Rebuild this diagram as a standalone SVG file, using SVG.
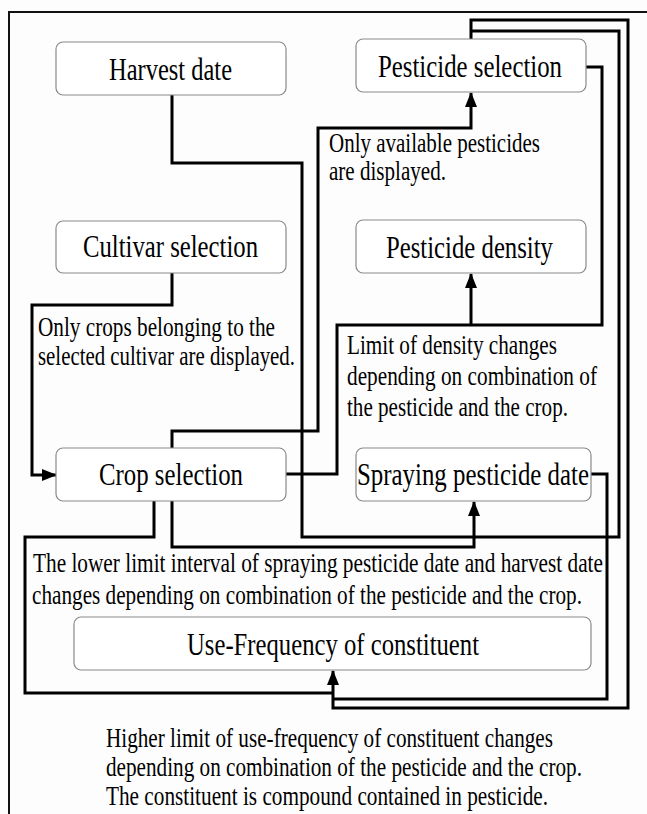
<svg xmlns="http://www.w3.org/2000/svg" width="647" height="814" viewBox="0 0 647 814">
<style>
.bg{fill:#fdfdfd}
.frame{fill:none;stroke:#111;stroke-width:2}
.box{fill:#fff;stroke:#8a8a8a;stroke-width:1.2}
.nt{font-family:"Liberation Serif","Times New Roman",serif;font-size:31px;fill:#000}
.at{font-family:"Liberation Serif","Times New Roman",serif;font-size:27px;fill:#000}
.c{fill:none;stroke:#000;stroke-width:3;stroke-linejoin:miter}
</style>
<defs>
<marker id="ah" markerWidth="15" markerHeight="12" refX="14" refY="6" orient="auto" markerUnits="userSpaceOnUse">
<path d="M0,0 L15,6 L0,12 z" fill="#000"/>
</marker>
</defs>
<rect class="bg" x="0" y="0" width="647" height="814"/>
<path class="frame" d="M9,814 V12 H647"/>

<g id="connectors">
<path class="c" d="M172,95 V163 H302 V537 H619 V31 H471"/>
<path class="c" d="M471,39 V20 H628 V708 H333 V671" marker-end="url(#ah)"/>
<path class="c" d="M154,501 V537 H25 V693 H333"/>
<path class="c" d="M591,474 H607 V699 H333"/>
<path class="c" d="M172,448 V431 H318 V128 H471 V93" marker-end="url(#ah)"/>
<path class="c" d="M172,501 V547 H474 V502" marker-end="url(#ah)"/>
<path class="c" d="M172,273 V305 H32 V475 H56" marker-end="url(#ah)"/>
<path class="c" d="M586,67 H602 V325 H337 V474 H286"/>
<path class="c" d="M471,325 V274" marker-end="url(#ah)"/>
</g>

<g id="harvest-date">
<rect class="box" x="56" y="42" width="230" height="53" rx="7"/>
<text class="nt" x="109" y="80" textLength="123" lengthAdjust="spacingAndGlyphs">Harvest date</text>
</g>
<g id="pesticide-selection">
<rect class="box" x="356" y="39" width="230" height="53" rx="7"/>
<text class="nt" x="378" y="77" textLength="184" lengthAdjust="spacingAndGlyphs">Pesticide selection</text>
</g>
<g id="cultivar-selection">
<rect class="box" x="56" y="221" width="230" height="52" rx="7"/>
<text class="nt" x="83" y="257" textLength="175" lengthAdjust="spacingAndGlyphs">Cultivar selection</text>
</g>
<g id="pesticide-density">
<rect class="box" x="356" y="220" width="230" height="53" rx="7"/>
<text class="nt" x="386" y="258" textLength="167" lengthAdjust="spacingAndGlyphs">Pesticide density</text>
</g>
<g id="crop-selection">
<rect class="box" x="56" y="448" width="230" height="53" rx="7"/>
<text class="nt" x="99" y="485" textLength="144" lengthAdjust="spacingAndGlyphs">Crop selection</text>
</g>
<g id="spraying-pesticide-date">
<rect class="box" x="356" y="448" width="235" height="53" rx="7"/>
<text class="nt" x="357" y="485" textLength="232" lengthAdjust="spacingAndGlyphs">Spraying pesticide date</text>
</g>
<g id="use-frequency">
<rect class="box" x="74" y="617" width="517" height="53" rx="7"/>
<text class="nt" x="187" y="655" textLength="292" lengthAdjust="spacingAndGlyphs">Use-Frequency of constituent</text>
</g>

<g id="notes">
<text class="at" x="329" y="152" textLength="211" lengthAdjust="spacingAndGlyphs">Only available pesticides</text>
<text class="at" x="329" y="180" textLength="117" lengthAdjust="spacingAndGlyphs">are displayed.</text>
<text class="at" x="38" y="336" textLength="237" lengthAdjust="spacingAndGlyphs">Only crops belonging to the</text>
<text class="at" x="38" y="365" textLength="257" lengthAdjust="spacingAndGlyphs">selected cultivar are displayed.</text>
<text class="at" x="347" y="354" textLength="210" lengthAdjust="spacingAndGlyphs">Limit of density changes</text>
<text class="at" x="347" y="385" textLength="250" lengthAdjust="spacingAndGlyphs">depending on combination of</text>
<text class="at" x="347" y="416" textLength="221" lengthAdjust="spacingAndGlyphs">the pesticide and the crop.</text>
<text class="at" x="33" y="572" textLength="570" lengthAdjust="spacingAndGlyphs">The lower limit interval of spraying pesticide date and harvest date</text>
<text class="at" x="32" y="604" textLength="550" lengthAdjust="spacingAndGlyphs">changes depending on combination of the pesticide and the crop.</text>
<text class="at" x="106" y="747" textLength="447" lengthAdjust="spacingAndGlyphs">Higher limit of use-frequency of constituent changes</text>
<text class="at" x="106" y="776" textLength="476" lengthAdjust="spacingAndGlyphs">depending on combination of the pesticide and the crop.</text>
<text class="at" x="106" y="805" textLength="442" lengthAdjust="spacingAndGlyphs">The constituent is compound contained in pesticide.</text>
</g>
</svg>
